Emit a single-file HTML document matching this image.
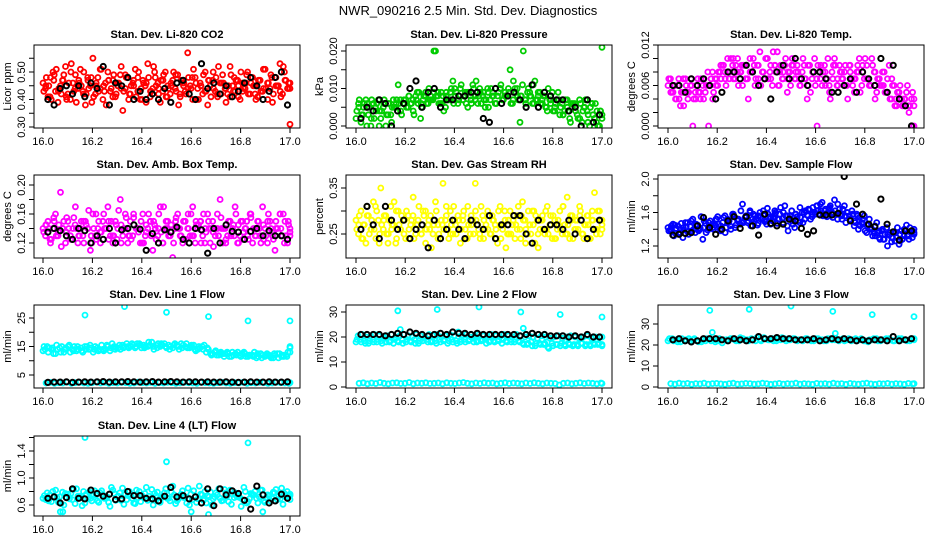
<!DOCTYPE html>
<html><head><meta charset="utf-8"><style>
html,body{margin:0;padding:0;background:#fff;}
svg{display:block;font-family:"Liberation Sans",sans-serif;}
</style></head><body>
<svg id="chart" width="936" height="540" viewBox="0 0 936 540">
<text x="468" y="15" text-anchor="middle" font-size="13">NWR_090216  2.5 Min. Std. Dev. Diagnostics</text>
</svg>
<script>
// ---- data ----
const xTicks=[16.0,16.2,16.4,16.6,16.8,17.0];
const xRange=[16.0,17.0];
const co2A=[0.46,0.44,0.41,0.48,0.50,0.43,0.39,0.45,0.47,0.52,0.42,0.40,0.46,0.49,0.44,0.51,0.43,0.38,0.47,0.45,0.55,0.42,0.48,0.44,0.40,0.46,0.50,0.43,0.47,0.41,0.45,0.49,0.36,0.44,0.48,0.42,0.46,0.51,0.43,0.40,0.47,0.45,0.53,0.41,0.44,0.48,0.46,0.39,0.43,0.50,0.45,0.42,0.47,0.44,0.49,0.41,0.46,0.43,0.57,0.45,0.40,0.48,0.44,0.46,0.42,0.50,0.38,0.45,0.47,0.43,0.41,0.46,0.49,0.44,0.42,0.52,0.45,0.43,0.47,0.40,0.46,0.44,0.50,0.42,0.48,0.45,0.41,0.47,0.43,0.51,0.46,0.44,0.39,0.48,0.45,0.53,0.42,0.47,0.44,0.31];
const co2B=[0.43,0.48,0.45,0.40,0.47,0.51,0.44,0.42,0.49,0.41,0.46,0.53,0.43,0.39,0.47,0.45,0.50,0.42,0.44,0.48,0.41,0.46,0.43,0.51,0.45,0.38,0.47,0.44,0.49,0.42,0.46,0.52,0.43,0.48,0.40,0.45,0.47,0.41,0.50,0.44,0.46,0.39,0.48,0.43,0.52,0.45,0.42,0.47,0.49,0.41,0.44,0.46,0.50,0.43,0.38,0.47,0.45,0.42,0.48,0.44,0.51,0.46,0.40,0.45,0.49,0.43,0.47,0.41,0.44,0.48,0.52,0.42,0.46,0.39,0.45,0.49,0.43,0.47,0.41,0.50,0.44,0.46,0.42,0.48,0.45,0.40,0.47,0.43,0.51,0.44,0.46,0.49,0.42,0.48,0.45,0.41,0.52,0.47,0.44,0.46];
const co2C=[0.45,0.41,0.49,0.43,0.47,0.40,0.50,0.44,0.46,0.42,0.48,0.39,0.45,0.51,0.43,0.47,0.41,0.46,0.44,0.49,0.42,0.45,0.48,0.40,0.46,0.43,0.50,0.44,0.47,0.41,0.45,0.49,0.42,0.46,0.44,0.48,0.40,0.45,0.43,0.47,0.50,0.42,0.46,0.44,0.41,0.48,0.45,0.43,0.49,0.46,0.42,0.47,0.44,0.40,0.48,0.45,0.43,0.50,0.46,0.44];
const co2Black=[0.40,0.38,0.44,0.45,0.42,0.45,0.41,0.46,0.44,0.52,0.38,0.46,0.45,0.48,0.40,0.43,0.40,0.42,0.40,0.44,0.39,0.46,0.47,0.42,0.40,0.53,0.44,0.46,0.42,0.45,0.41,0.43,0.46,0.48,0.45,0.40,0.43,0.48,0.50,0.38];
const presA=[0.002,0.006,0.001,0.005,0.007,0.003,0.000,0.006,0.004,0.007,0.002,0.005,0.000,0.006,0.003,0.007,0.005,0.011,0.004,0.006,0.007,0.005,0.006,0.004,0.008,0.006,0.002,0.007,0.009,0.006,0.008,0.007,0.020,0.009,0.006,0.008,0.005,0.007,0.009,0.012,0.008,0.006,0.010,0.007,0.009,0.005,0.008,0.011,0.007,0.006,0.009,0.008,0.005,0.010,0.007,0.009,0.006,0.008,0.010,0.007,0.009,0.008,0.015,0.006,0.010,0.008,0.001,0.011,0.007,0.009,0.008,0.006,0.012,0.007,0.009,0.006,0.008,0.004,0.007,0.009,0.005,0.007,0.003,0.006,0.004,0.007,0.002,0.005,0.006,0.003,0.007,0.001,0.005,0.004,0.000,0.006,0.002,0.004,0.000,0.021];
const presB=[0.004,0.007,0.003,0.006,0.000,0.005,0.007,0.002,0.006,0.000,0.004,0.007,0.003,0.006,0.001,0.005,0.007,0.006,0.003,0.007,0.005,0.008,0.006,0.003,0.007,0.009,0.005,0.008,0.006,0.010,0.007,0.020,0.008,0.006,0.009,0.004,0.008,0.007,0.010,0.006,0.009,0.007,0.011,0.008,0.006,0.009,0.007,0.010,0.012,0.008,0.006,0.009,0.007,0.005,0.010,0.008,0.006,0.009,0.011,0.007,0.008,0.010,0.006,0.012,0.009,0.007,0.008,0.020,0.006,0.010,0.008,0.011,0.007,0.009,0.006,0.008,0.005,0.010,0.007,0.004,0.006,0.009,0.005,0.003,0.007,0.004,0.001,0.006,0.005,0.002,0.006,0.004,0.007,0.001,0.005,0.003,0.006,0.000,0.004,0.002];
const presC=[0.005,0.003,0.006,0.002,0.005,0.004,0.006,0.003,0.005,0.006,0.007,0.006,0.008,0.007,0.009,0.006,0.008,0.007,0.009,0.008,0.006,0.009,0.007,0.010,0.008,0.007,0.009,0.006,0.008,0.010,0.007,0.009,0.008,0.006,0.010,0.008,0.009,0.007,0.010,0.008,0.007,0.009,0.006,0.008,0.007,0.005,0.006,0.004,0.007,0.003,0.005,0.006,0.004,0.002,0.005,0.003,0.006,0.001,0.004,0.003];
const presBlack=[0.002,0.005,0.004,0.007,0.006,0.000,0.004,0.006,0.010,0.012,0.005,0.009,0.010,0.005,0.007,0.007,0.008,0.008,0.009,0.009,0.002,0.001,0.010,0.006,0.008,0.009,0.007,0.005,0.011,0.005,0.009,0.008,0.007,0.007,0.004,0.005,0.000,0.007,0.001,0.003];
const tempA=[0.006,0.007,0.005,0.004,0.006,0.003,0.005,0.007,0.004,0.006,0.000,0.005,0.007,0.004,0.006,0.005,0.008,0.006,0.004,0.007,0.006,0.008,0.009,0.007,0.010,0.008,0.009,0.007,0.010,0.008,0.006,0.009,0.007,0.010,0.008,0.006,0.009,0.011,0.008,0.007,0.010,0.008,0.006,0.009,0.011,0.008,0.007,0.009,0.005,0.008,0.010,0.007,0.009,0.006,0.008,0.007,0.004,0.009,0.007,0.010,0.000,0.008,0.006,0.009,0.007,0.005,0.008,0.010,0.006,0.009,0.007,0.008,0.006,0.009,0.007,0.005,0.008,0.010,0.006,0.007,0.009,0.006,0.010,0.008,0.005,0.007,0.006,0.008,0.005,0.009,0.004,0.006,0.003,0.005,0.004,0.003,0.005,0.002,0.004,0.000];
const tempB=[0.007,0.005,0.006,0.004,0.007,0.005,0.003,0.006,0.005,0.007,0.004,0.006,0.005,0.007,0.004,0.006,0.000,0.007,0.005,0.006,0.008,0.007,0.009,0.006,0.008,0.010,0.007,0.009,0.006,0.008,0.009,0.007,0.004,0.008,0.010,0.007,0.009,0.006,0.008,0.010,0.007,0.009,0.011,0.008,0.006,0.009,0.007,0.010,0.008,0.006,0.009,0.007,0.008,0.006,0.010,0.007,0.009,0.005,0.008,0.006,0.009,0.007,0.008,0.006,0.010,0.004,0.007,0.009,0.006,0.008,0.007,0.009,0.004,0.008,0.006,0.007,0.009,0.005,0.008,0.010,0.007,0.006,0.009,0.004,0.007,0.006,0.008,0.005,0.007,0.004,0.006,0.003,0.005,0.004,0.003,0.004,0.006,0.003,0.000,0.004];
const tempC=[0.005,0.006,0.004,0.007,0.005,0.006,0.004,0.005,0.007,0.006,0.008,0.007,0.009,0.008,0.007,0.010,0.008,0.009,0.007,0.008,0.009,0.007,0.008,0.010,0.007,0.009,0.006,0.008,0.007,0.009,0.008,0.007,0.009,0.006,0.008,0.007,0.009,0.008,0.006,0.009,0.007,0.008,0.006,0.009,0.007,0.008,0.009,0.007,0.006,0.008,0.007,0.006,0.005,0.007,0.004,0.006,0.004,0.003,0.005,0.003];
const tempBlack=[0.006,0.006,0.005,0.007,0.006,0.007,0.006,0.004,0.005,0.008,0.008,0.007,0.009,0.008,0.006,0.007,0.004,0.008,0.009,0.007,0.010,0.007,0.006,0.008,0.008,0.007,0.005,0.005,0.006,0.007,0.005,0.008,0.007,0.006,0.010,0.005,0.009,0.004,0.003,0.000];
const ambA=[0.14,0.13,0.15,0.12,0.14,0.16,0.13,0.19,0.14,0.12,0.15,0.13,0.14,0.17,0.12,0.14,0.13,0.15,0.14,0.11,0.16,0.13,0.14,0.12,0.15,0.14,0.17,0.13,0.12,0.15,0.14,0.18,0.13,0.14,0.12,0.15,0.13,0.22,0.14,0.12,0.16,0.13,0.14,0.15,0.11,0.14,0.13,0.17,0.12,0.14,0.15,0.13,0.10,0.14,0.16,0.13,0.12,0.15,0.14,0.13,0.17,0.12,0.14,0.15,0.13,0.14,0.16,0.12,0.15,0.13,0.14,0.18,0.12,0.14,0.13,0.15,0.14,0.17,0.12,0.13,0.15,0.14,0.13,0.16,0.12,0.14,0.15,0.13,0.17,0.14,0.12,0.15,0.13,0.11,0.14,0.16,0.13,0.15,0.12,0.14];
const ambB=[0.135,0.145,0.14,0.125,0.155,0.13,0.145,0.115,0.15,0.135,0.14,0.125,0.155,0.14,0.13,0.15,0.12,0.145,0.165,0.13,0.14,0.125,0.15,0.135,0.16,0.14,0.125,0.15,0.13,0.145,0.165,0.12,0.14,0.155,0.13,0.125,0.16,0.14,0.135,0.15,0.12,0.145,0.16,0.13,0.15,0.125,0.14,0.135,0.17,0.15,0.13,0.145,0.12,0.155,0.14,0.13,0.15,0.125,0.14,0.16,0.13,0.15,0.145,0.12,0.16,0.135,0.15,0.14,0.115,0.14,0.13,0.155,0.14,0.125,0.15,0.13,0.145,0.16,0.12,0.15,0.135,0.14,0.125,0.155,0.14,0.13,0.15,0.12,0.145,0.13,0.16,0.14,0.125,0.15,0.135,0.14,0.16,0.13,0.15,0.135];
const ambC=[0.145,0.125,0.15,0.135,0.14,0.155,0.125,0.145,0.13,0.15,0.14,0.12,0.16,0.135,0.14,0.15,0.13,0.125,0.145,0.16,0.13,0.155,0.14,0.12,0.135,0.15,0.145,0.16,0.12,0.14,0.135,0.15,0.14,0.125,0.16,0.13,0.145,0.15,0.12,0.14,0.135,0.16,0.14,0.12,0.15,0.13,0.145,0.125,0.15,0.16,0.13,0.14,0.125,0.15,0.135,0.14,0.16,0.12,0.145,0.13];
const ambBlack=[0.135,0.14,0.137,0.13,0.125,0.14,0.137,0.12,0.13,0.125,0.14,0.12,0.138,0.14,0.145,0.139,0.11,0.133,0.12,0.138,0.135,0.142,0.125,0.12,0.14,0.138,0.106,0.14,0.12,0.145,0.136,0.135,0.125,0.136,0.14,0.13,0.137,0.13,0.13,0.125];
const rhA=[0.28,0.25,0.30,0.27,0.23,0.29,0.26,0.32,0.24,0.28,0.35,0.26,0.29,0.25,0.31,0.27,0.23,0.30,0.26,0.28,0.24,0.29,0.27,0.33,0.25,0.28,0.26,0.30,0.23,0.27,0.29,0.25,0.32,0.27,0.24,0.36,0.28,0.26,0.30,0.25,0.27,0.29,0.23,0.28,0.26,0.31,0.25,0.28,0.36,0.27,0.24,0.29,0.26,0.30,0.25,0.28,0.27,0.23,0.31,0.26,0.28,0.25,0.30,0.27,0.24,0.29,0.26,0.32,0.28,0.25,0.27,0.30,0.23,0.28,0.26,0.29,0.25,0.31,0.27,0.24,0.28,0.26,0.30,0.25,0.27,0.33,0.24,0.29,0.26,0.28,0.31,0.25,0.27,0.29,0.24,0.28,0.34,0.26,0.30,0.27];
const rhB=[0.26,0.29,0.24,0.27,0.31,0.25,0.28,0.26,0.30,0.23,0.27,0.29,0.25,0.28,0.26,0.32,0.24,0.27,0.29,0.25,0.30,0.26,0.28,0.24,0.27,0.31,0.25,0.29,0.26,0.28,0.22,0.27,0.30,0.25,0.28,0.26,0.29,0.24,0.27,0.31,0.25,0.28,0.26,0.30,0.24,0.27,0.29,0.25,0.28,0.26,0.31,0.24,0.27,0.29,0.25,0.28,0.26,0.30,0.24,0.27,0.22,0.28,0.25,0.29,0.27,0.31,0.24,0.28,0.26,0.30,0.25,0.27,0.29,0.22,0.28,0.26,0.30,0.25,0.27,0.29,0.24,0.28,0.26,0.31,0.25,0.27,0.29,0.24,0.28,0.26,0.30,0.25,0.27,0.29,0.24,0.28,0.26,0.30,0.25,0.28];
const rhC=[0.27,0.24,0.29,0.26,0.31,0.25,0.28,0.23,0.27,0.30,0.26,0.28,0.24,0.29,0.27,0.25,0.30,0.26,0.28,0.24,0.27,0.31,0.25,0.28,0.26,0.29,0.24,0.27,0.30,0.25,0.28,0.26,0.29,0.24,0.27,0.30,0.25,0.28,0.26,0.29,0.23,0.27,0.30,0.25,0.28,0.26,0.29,0.24,0.27,0.31,0.25,0.28,0.26,0.29,0.24,0.27,0.30,0.25,0.28,0.26];
const rhBlack=[0.26,0.31,0.27,0.24,0.31,0.28,0.26,0.28,0.24,0.26,0.27,0.22,0.28,0.24,0.26,0.28,0.26,0.24,0.28,0.27,0.26,0.29,0.24,0.27,0.27,0.29,0.29,0.25,0.23,0.28,0.26,0.27,0.27,0.26,0.28,0.25,0.28,0.24,0.26,0.28];
const flowA=[1.42,1.38,1.46,1.35,1.44,1.40,1.30,1.48,1.37,1.43,1.52,1.36,1.45,1.41,1.28,1.47,1.39,1.50,1.42,1.45,1.55,1.40,1.48,1.36,1.52,1.44,1.58,1.42,1.50,1.46,1.70,1.54,1.48,1.62,1.52,1.56,1.45,1.60,1.53,1.49,1.65,1.55,1.50,1.62,1.47,1.58,1.53,1.68,1.44,1.56,1.50,1.42,1.55,1.48,1.60,1.52,1.57,1.63,1.55,1.60,1.68,1.58,1.72,1.62,1.55,1.66,1.60,1.75,1.58,1.64,1.52,1.68,1.60,1.56,1.62,1.50,1.58,1.54,1.48,1.56,1.45,1.52,1.40,1.35,1.48,1.30,1.38,1.28,1.42,1.33,1.25,1.36,1.30,1.22,1.38,1.32,1.45,1.28,1.35,1.40];
const flowB=[1.38,1.44,1.32,1.41,1.36,1.47,1.39,1.43,1.34,1.50,1.40,1.46,1.38,1.55,1.42,1.36,1.48,1.44,1.40,1.52,1.46,1.38,1.54,1.42,1.48,1.40,1.56,1.45,1.52,1.62,1.48,1.56,1.50,1.44,1.58,1.52,1.47,1.55,1.62,1.50,1.58,1.46,1.54,1.60,1.52,1.66,1.48,1.56,1.38,1.52,1.46,1.58,1.50,1.54,1.48,1.62,1.56,1.52,1.66,1.58,1.62,1.70,1.56,1.64,1.60,1.68,1.54,1.62,1.70,1.58,1.64,1.56,1.60,1.52,1.58,1.48,1.56,1.44,1.52,1.38,1.46,1.40,1.32,1.44,1.36,1.28,1.40,1.34,1.20,1.36,1.30,1.26,1.42,1.34,1.28,1.38,1.32,1.42,1.30,1.36];
const flowC=[1.40,1.45,1.36,1.42,1.48,1.38,1.44,1.40,1.50,1.42,1.46,1.52,1.44,1.56,1.50,1.58,1.52,1.48,1.55,1.60,1.50,1.56,1.52,1.46,1.54,1.58,1.52,1.60,1.56,1.62,1.58,1.66,1.60,1.64,1.58,1.68,1.62,1.56,1.64,1.58,1.52,1.56,1.48,1.52,1.44,1.40,1.46,1.36,1.42,1.32,1.38,1.28,1.34,1.30,1.36,1.26,1.40,1.32,1.38,1.34];
const flowBlack=[1.33,1.34,1.35,1.36,1.44,1.54,1.42,1.34,1.40,1.50,1.55,1.41,1.55,1.44,1.33,1.58,1.47,1.44,1.46,1.52,1.50,1.41,1.34,1.38,1.57,1.57,1.57,1.59,2.03,1.50,1.70,1.58,1.46,1.43,1.76,1.46,1.37,1.27,1.38,1.38];
const l1A=[13.5,15,14,12.5,14.5,13,15,14,13.5,14.5,15,14,13,14.5,15.5,14,13.5,15,14.5,15.5,16,15,14.5,16,15.5,15,16.5,15.5,15,16,15.5,14.5,15.5,16,15,14.5,15.5,14,15,13,12.5,13,12,12.5,13,11.5,12.5,12,13,11.5,12,11,12.5,11.5,12,11,12.5,11.5,12,14.5];
const l1B=[15,13,14.5,15.5,13,14,15.5,13.5,15,13.5,14,15.5,14,13.5,14,15.5,14.5,14,15.5,14.5,15,16,15,15.5,14.5,16.5,15,14.5,16,15,14,15.5,15,14.5,16,15,14,15,14,14.5,12,13.5,12.5,11.5,12.5,13,12,11.5,12.5,12,11.5,12.5,11,12,11.5,12.5,11,12,11.5,13];
const l1C=[14,14.5,12.5,14,15,14.5,13,15,14,13,15,14.5,15,14,13.5,15,16,14.5,14,15,14.5,15.5,16,14.5,15,15.5,14,16,15.5,14.5,15,16,14,15.5,14.5,15.5,13.5,14.5,15.5,14,12.5,12,13,12.5,11.5,12,13,12.5,11.5,12,13,11.5,12,12.5,11,12,12.5,11.5,13,15];
const l1Low=[2.2,2.4,2.1,2.3,2.2,2.5,2.1,2.3,2.4,2.2,2.1,2.3,2.5,2.2,2.4,2.1,2.3,2.2,2.4,2.3,2.1,2.2,2.5,2.3,2.2,2.4,2.1,2.3,2.2,2.4,2.3,2.1,2.2,2.4,2.3,2.2,2.1,2.4,2.3,2.2,2.1,2.3,2.4,2.2,2.1,2.3,2.2,2.4,2.1,2.3,2.2,2.4,2.3,2.1,2.2,2.4,2.3,2.2,2.1,2.3];
const l1Black=[2.4,2.5,2.5,2.6,2.4,2.5,2.6,2.5,2.6,2.7,2.5,2.6,2.6,2.7,2.6,2.5,2.6,2.7,2.5,2.6,2.7,2.6,2.5,2.6,2.6,2.5,2.6,2.5,2.5,2.6,2.5,2.4,2.5,2.6,2.5,2.5,2.6,2.5,2.5,2.6];
const l1OutX=[16.17,16.33,16.5,16.67,16.83,17.0];
const l1OutY=[26,29,27,25.5,24,24];
const l2A=[18,19,18.5,17.5,19,18,18.5,19.5,18,17.5,18.5,19,18,18.5,19,17.5,18.5,19,18,18.5,19,18.5,17.5,19,18.5,18,19,18.5,19.5,18,18.5,19,18,18.5,19,17.5,18.5,19,18,18.5,17.5,17,18,16.5,17.5,17,16,17.5,17,16.5,17,17.5,16.5,17,17.5,16.5,17,17.5,17,16.5];
const l2B=[19,18,17.5,18.5,18,19,17.5,18,18.5,19,18,17.5,19,18,17.5,18.5,19.5,18,18.5,17.5,18,19,18.5,18,17.5,19,18,19,18,18.5,19,17.5,18.5,18,18.5,19,18,18,19,18,17,17.5,16.5,17.5,17,17.5,15.5,16.5,17,17.5,16.5,17,17,16.5,17.5,17,16.5,17,17.5,17];
const l2C=[20.5,21,20,20.5,21,20.5,19.5,20.5,21,20,20.5,21,20.5,20,21,20.5,20,21,20.5,21,20,20.5,21,20.5,22,20.5,21,20,20.5,21,20.5,20,21,20.5,20,21,20.5,20,21,20.5,20,20.5,20,19.5,20.5,20,19.5,20,20.5,19.5,20,20.5,20,19.5,20,20.5,19.5,20,20,20];
const l2Low=[1.5,1.7,1.3,1.6,1.4,1.8,1.5,1.3,1.6,1.7,1.4,1.5,1.8,1.3,1.6,1.5,1.7,1.4,1.5,1.6,1.3,1.7,1.5,1.4,1.6,1.8,1.5,1.3,1.6,1.4,1.7,1.5,1.6,1.3,1.5,1.7,1.4,1.6,1.5,1.3,1.6,1.4,1.7,1.5,1.3,1.6,1.5,1.4,0.8,1.5,1.6,1.3,1.5,1.7,1.4,1.6,1.5,1.3,1.6,1.4];
const l2Black=[21,21,21,21,20.5,21,21.5,21,22,21.5,21,20.5,21,21.5,21,22,21.5,21.5,21,21.5,21,21,21,21,21,21,20.5,21,21.5,21,21,20.5,20.5,20.5,20,20.5,20,21,20,20];
const l2OutX=[16.17,16.18,16.33,16.5,16.67,16.68,16.83,17.0];
const l2OutY=[30.5,23,31,32,30,23.5,29,28];
const l3A=[22,23,22.5,21.5,22,23,22.5,22,21.5,22,23,22.5,22,21,22.5,23,22.5,22,23,22.5,23,22,22.5,23.5,22.5,23,22,22.5,23,22.5,23,22,22.5,23,22.5,22,23,22.5,22,23,22.5,22,23,22.5,22,23,22.5,22,21.5,22.5,23,22,22.5,23,22,22.5,23,22.5,22,23];
const l3B=[23,22,21.5,23,22.5,22,23,21.5,22.5,23,22,21.5,23,22.5,22,23,22,23.5,22.5,22,22.5,23.5,22,23,22.5,22,23,23.5,22,22.5,23,22.5,22,23,22,23,22.5,22,23,22.5,23,22.5,22,23,22.5,22,23,22,22.5,23,22,22.5,23,22.5,22,23,22.5,22,23,22.5];
const l3Low=[1.6,1.4,1.8,1.5,1.7,1.3,1.6,1.5,1.8,1.4,1.6,1.7,1.5,1.3,1.6,1.8,1.4,1.5,1.7,1.6,1.4,1.5,1.8,1.6,1.3,1.5,1.7,1.4,1.6,1.5,1.8,1.4,1.6,1.5,1.3,1.7,1.5,1.6,1.4,1.8,1.5,1.6,1.3,1.7,1.5,1.4,1.6,1.8,1.5,1.3,1.6,1.5,1.7,1.4,1.6,1.5,1.3,1.7,1.5,1.6];
const l3Black=[22.5,23,22,21.5,22,23,23,23,22.5,22,23,22.5,22,22.5,24,23,23,23.5,23,23,22.5,22.5,22.5,23,22,22.5,23,22.5,23,22.5,22,22.5,22,22.5,22.5,22,24,22,22.5,23];
const l3OutX=[16.17,16.18,16.33,16.5,16.67,16.68,16.83,17.0];
const l3OutY=[36.5,26,37,38.5,36,25.5,34.5,33.5];
const l4A=[0.70,0.78,0.65,0.82,0.72,0.60,0.76,0.68,0.84,0.71,0.63,0.79,0.74,0.66,0.81,0.70,0.58,0.77,0.73,0.85,0.68,0.75,0.62,0.80,0.71,0.67,0.83,0.74,0.64,0.78,0.70,0.88,0.66,0.76,0.72,0.60,0.81,0.69,0.75,0.63,0.79,0.72,0.84,0.67,0.74,0.61,0.78,0.71,0.86,0.65,0.76,0.70,0.82,0.64,0.73,0.79,0.68,0.85,0.72,0.76];
const l4B=[0.74,0.66,0.80,0.71,0.62,0.77,0.69,0.83,0.73,0.59,0.76,0.70,0.81,0.64,0.75,0.72,0.86,0.67,0.78,0.61,0.74,0.70,0.82,0.65,0.77,0.73,0.60,0.79,0.71,0.84,0.66,0.75,0.69,0.81,0.63,0.76,0.72,0.88,0.67,0.74,0.60,0.78,0.70,0.83,0.65,0.76,0.72,0.58,0.80,0.69,0.75,0.63,0.82,0.71,0.66,0.78,0.73,0.61,0.80,0.74];
const l4C=[0.68,0.75,0.72,0.64,0.79,0.71,0.77,0.62,0.73,0.80,0.69,0.66,0.75,0.78,0.70,0.64,0.82,0.72,0.67,0.76,0.80,0.63,0.71,0.74,0.86,0.69,0.77,0.65,0.73,0.70,0.79,0.62,0.74,0.71,0.85,0.68,0.64,0.76,0.80,0.72,0.69,0.75,0.66,0.78,0.82,0.71,0.74,0.68,0.63,0.77,0.80,0.72,0.66,0.75,0.70,0.83,0.69,0.77,0.73,0.68];
const l4Black=[0.70,0.72,0.63,0.71,0.84,0.70,0.69,0.82,0.77,0.73,0.76,0.68,0.69,0.80,0.74,0.74,0.70,0.69,0.66,0.73,0.86,0.72,0.74,0.69,0.72,0.63,0.84,0.59,0.84,0.75,0.81,0.77,0.67,0.54,0.88,0.75,0.63,0.66,0.76,0.70];
const l4OutX=[16.17,16.5,16.83,16.07,16.08,16.6,16.67,16.89];
const l4OutY=[1.60,1.24,1.52,0.50,0.50,0.50,0.46,0.50];

// ---- panel setup (geometry) ----
const svg=document.getElementById('chart');
const NS='http://www.w3.org/2000/svg';
const colL=[34,346,658], colR=[300,612,924], x16=[43,356,668], x17=[290,602,914];
const rowT=[45,175,305,436], rowB=[128,258,388,516];
function mk(tag,attrs,parent){const e=document.createElementNS(NS,tag);for(const k in attrs)e.setAttribute(k,attrs[k]);(parent||svg).appendChild(e);return e;}

const panels=[
 {c:0,r:0,title:'Stan. Dev. Li-820 CO2',ylab:'Licor ppm',anchor:[0.30,127,0.50,72],ticks:[0.30,0.35,0.40,0.45,0.50,0.55],labels:['0.30','0.40','0.50'],labelVals:[0.30,0.40,0.50],
  series:[{v:co2A,col:'#ff0000'},{v:co2B,col:'#ff0000'},{v:co2C,col:'#ff0000'},{v:co2Black,col:'#000',black:true}]},
 {c:1,r:0,title:'Stan. Dev. Li-820 Pressure',ylab:'kPa',anchor:[0,126,0.020,51],ticks:[0,0.005,0.010,0.015,0.020],labels:['0.000','0.010','0.020'],labelVals:[0,0.010,0.020],
  series:[{v:presA,col:'#00cc00'},{v:presB,col:'#00cc00'},{v:presC,col:'#00cc00'},{v:presBlack,col:'#000',black:true}]},
 {c:2,r:0,title:'Stan. Dev. Li-820 Temp.',ylab:'degrees C',anchor:[0,126,0.012,45],ticks:[0,0.002,0.004,0.006,0.008,0.010,0.012],labels:['0.000','0.006','0.012'],labelVals:[0,0.006,0.012],
  series:[{v:tempA,col:'#ff00ff'},{v:tempB,col:'#ff00ff'},{v:tempC,col:'#ff00ff'},{v:tempBlack,col:'#000',black:true}]},
 {c:0,r:1,title:'Stan. Dev. Amb. Box Temp.',ylab:'degrees C',anchor:[0.12,243,0.20,185],ticks:[0.12,0.14,0.16,0.18,0.20],labels:['0.12','0.16','0.20'],labelVals:[0.12,0.16,0.20],
  series:[{v:ambA,col:'#ff00ff'},{v:ambB,col:'#ff00ff'},{v:ambC,col:'#ff00ff'},{v:ambBlack,col:'#000',black:true}]},
 {c:1,r:1,title:'Stan. Dev. Gas Stream RH',ylab:'percent',anchor:[0.25,234,0.35,188],ticks:[0.25,0.30,0.35],labels:['0.25','0.35'],labelVals:[0.25,0.35],
  series:[{v:rhA,col:'#ffff00'},{v:rhB,col:'#ffff00'},{v:rhC,col:'#ffff00'},{v:rhBlack,col:'#000',black:true}]},
 {c:2,r:1,title:'Stan. Dev. Sample Flow',ylab:'ml/min',anchor:[1.2,246,2.0,179],ticks:[1.2,1.4,1.6,1.8,2.0],labels:['1.2','1.6','2.0'],labelVals:[1.2,1.6,2.0],
  series:[{v:flowA,col:'#0000ff'},{v:flowB,col:'#0000ff'},{v:flowC,col:'#0000ff'},{v:flowBlack,col:'#000',black:true}]},
 {c:0,r:2,title:'Stan. Dev. Line 1 Flow',ylab:'ml/min',anchor:[5,375,25,318],ticks:[5,10,15,20,25],labels:['5','15','25'],labelVals:[5,15,25],
  series:[{v:l1A,col:'#00ffff'},{v:l1B,col:'#00ffff'},{v:l1C,col:'#00ffff'},{v:l1Low,col:'#00ffff'},{x:l1OutX,v:l1OutY,col:'#00ffff'},{v:l1Black,col:'#000',black:true}]},
 {c:1,r:2,title:'Stan. Dev. Line 2 Flow',ylab:'ml/min',anchor:[0,387,30,312],ticks:[0,10,20,30],labels:['0','10','20','30'],labelVals:[0,10,20,30],
  series:[{v:l2A,col:'#00ffff'},{v:l2B,col:'#00ffff'},{v:l2C,col:'#00ffff'},{v:l2Low,col:'#00ffff'},{x:l2OutX,v:l2OutY,col:'#00ffff'},{v:l2Black,col:'#000',black:true}]},
 {c:2,r:2,title:'Stan. Dev. Line 3 Flow',ylab:'ml/min',anchor:[0,387,30,324],ticks:[0,10,20,30],labels:['0','10','20','30'],labelVals:[0,10,20,30],
  series:[{v:l3A,col:'#00ffff'},{v:l3B,col:'#00ffff'},{v:l3Low,col:'#00ffff'},{x:l3OutX,v:l3OutY,col:'#00ffff'},{v:l3Black,col:'#000',black:true}]},
 {c:0,r:3,title:'Stan. Dev. Line 4 (LT) Flow',ylab:'ml/min',anchor:[0.6,505,1.4,451],ticks:[0.6,0.8,1.0,1.2,1.4,1.6],labels:['0.6','1.0','1.4'],labelVals:[0.6,1.0,1.4],
  series:[{v:l4A,col:'#00ffff'},{v:l4B,col:'#00ffff'},{v:l4C,col:'#00ffff'},{x:l4OutX,v:l4OutY,col:'#00ffff'},{v:l4Black,col:'#000',black:true}]}
];

panels.forEach((p,pi)=>{
  const L=colL[p.c],R=colR[p.c],T=rowT[p.r],B=rowB[p.r];
  const xs=v=>x16[p.c]+(v-xRange[0])/(xRange[1]-xRange[0])*(x17[p.c]-x16[p.c]);
  const [v1,p1,v2,p2]=p.anchor;
  const ys=v=>p1+(v-v1)/(v2-v1)*(p2-p1);
  const g=mk('g',{});
  
  
  const t=mk('text',{x:(L+R)/2,y:T-7,'text-anchor':'middle','font-size':'11','font-weight':'bold'},g);
  t.textContent=p.title;
  
  
  const yl=mk('text',{x:0,y:0,'text-anchor':'middle','font-size':'11',transform:`translate(${L-23},${(T+B)/2}) rotate(-90)`},g);
  yl.textContent=p.ylab;
  
  
  const cid='clip'+pi;
  const cp=mk('clipPath',{id:cid},g);mk('rect',{x:L,y:T,width:R-L,height:B-T},cp);
  const pg=mk('g',{'clip-path':`url(#${cid})`},g);
  
  
  const colored=p.series.filter(s=>!s.black&&!s.x);
  p.series.forEach(s=>{
    const n=s.v.length;
    const k=colored.indexOf(s);
    const off=k>=0?k/colored.length:0;
    s.v.forEach((val,i)=>{
      let xv;
      if(s.x) xv=s.x[i];
      else if(s.black) xv=16.02+(0.97*i)/(n-1);
      else xv=16.0+Math.min(i+off,n-1)/(n-1);
      const c=mk('circle',{cx:xs(xv).toFixed(1),cy:ys(val).toFixed(1),r:s.black?2.6:2.5,fill:'none',stroke:s.col,'stroke-width':s.black?2:1.8},pg);
      
      
    });
  });
  const box=mk('rect',{x:L,y:T,width:R-L,height:B-T,fill:'none',stroke:'#000','stroke-width':1},g);
  
  
  p.ticks.forEach(v=>{mk('line',{x1:L-5,x2:L,y1:ys(v),y2:ys(v),stroke:'#000'},g);});
  p.labelVals.forEach((v,i)=>{
    const tl=mk('text',{x:0,y:0,'text-anchor':'middle','font-size':'11',transform:`translate(${L-9},${ys(v)}) rotate(-90)`},g);
    tl.textContent=p.labels[i];
    
    
  });
  xTicks.forEach(v=>{
    mk('line',{x1:xs(v),x2:xs(v),y1:B,y2:B+5,stroke:'#000'},g);
    const xl=mk('text',{x:xs(v),y:B+17,'text-anchor':'middle','font-size':'11'},g);
    xl.textContent=v.toFixed(1);
    
    
  });
});
</script>
</body></html>
